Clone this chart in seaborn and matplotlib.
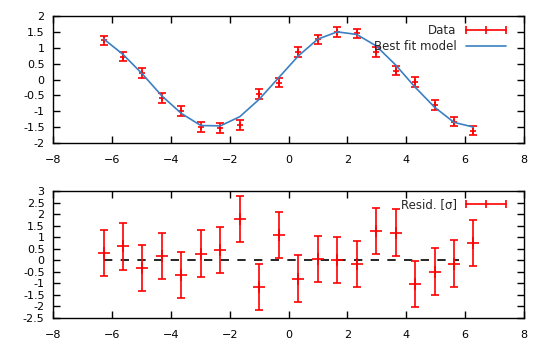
import matplotlib
matplotlib.use("Agg")
import matplotlib.pyplot as plt
from matplotlib.lines import Line2D
import seaborn as sns

# data
x = [-6.283, -5.622, -4.960, -4.299, -3.638, -2.976, -2.315, -1.653, -0.992, -0.331,
     0.331, 0.992, 1.653, 2.315, 2.976, 3.638, 4.299, 4.960, 5.622, 6.283]
y_data = [1.23, 0.72, 0.21, -0.58, -1.00, -1.49, -1.53, -1.43, -0.45, -0.10,
          0.86, 1.26, 1.50, 1.45, 0.87, 0.28, -0.08, -0.80, -1.33, -1.61]
y_err = [0.15] * 20
y_model = [1.28, 0.79, 0.17, -0.52, -1.07, -1.45, -1.46, -1.17, -0.62, 0.06,
           0.74, 1.27, 1.50, 1.42, 1.06, 0.46, -0.24, -0.87, -1.35, -1.50]
resid = [0.33, 0.60, -0.32, 0.17, -0.65, 0.29, 0.46, 1.80, -1.14, 1.11,
         -0.79, 0.04, 0.00, -0.17, 1.28, 1.20, -1.04, -0.49, -0.14, 0.76]
resid_err = [1.0] * 20

xticks = list(range(-8, 9, 2))
yticks_top = [-2, -1.5, -1, -0.5, 0, 0.5, 1, 1.5, 2]
yticks_bot = [-2.5, -2, -1.5, -1, -0.5, 0, 0.5, 1, 1.5, 2, 2.5, 3]

sns.set_style("ticks")
plt.rcParams['font.family'] = ['DejaVu Sans']
plt.rcParams['font.size'] = 8

red = "#ff0000"
blue = "#3a80c2"

fig = plt.figure(figsize=(5.5, 3.5), dpi=100)
ax1 = fig.add_axes([53 / 550, 1 - 143 / 350, 471 / 550, 127 / 350])
ax2 = fig.add_axes([53 / 550, 1 - 318 / 350, 471 / 550, 127 / 350])

ax1.errorbar(x, y_data, yerr=y_err, fmt='+', color=red, ms=5, mew=1.2,
             elinewidth=1.2, capsize=3, capthick=1.2, zorder=2)
sns.lineplot(x=x, y=y_model, ax=ax1, color=blue, linewidth=1.2, zorder=3)

ax2.errorbar(x, resid, yerr=resid_err, fmt='+', color=red, ms=8, mew=1.2,
             elinewidth=1.2, capsize=3, capthick=1.2, zorder=3)
ax2.hlines(0, x[0], 5.8, colors='black', linestyles=(0, (5, 5)), linewidth=1.2, zorder=2)

for ax, yt in ((ax1, yticks_top), (ax2, yticks_bot)):
    ax.set_xlim(-8, 8)
    ax.set_ylim(yt[0], yt[-1])
    ax.set_xticks(xticks)
    ax.set_yticks(yt)
    ax.set_yticklabels([f"{v:g}" for v in yt])
    ax.tick_params(direction='in', length=5, width=1, top=True, right=True,
                   labelsize=8, colors='black')
    ax.tick_params(axis='x', pad=8.5)
    ax.tick_params(axis='y', pad=6)
    for s in ax.spines.values():
        s.set_linewidth(1)
        s.set_color('black')

h_data = Line2D([], [], color=red, lw=1.2, marker='|', ms=6, mew=1.2)
h_model = Line2D([], [], color=blue, lw=1.2)
ax1.legend([h_data, h_model], ["Data", "Best fit model"], loc='upper right',
           frameon=False, markerfirst=False, numpoints=3, handlelength=4.0,
           handletextpad=0.5, labelspacing=0.25, borderaxespad=0.2,
           fontsize=8.5, bbox_to_anchor=(0.985, 0.99))
h_res = Line2D([], [], color=red, lw=1.2, marker='|', ms=6, mew=1.2)
ax2.legend([h_res], ["Resid. [σ]"], loc='upper right', frameon=False,
           markerfirst=False, numpoints=3, handlelength=4.0, handletextpad=0.5,
           borderaxespad=0.2, fontsize=8.5, bbox_to_anchor=(0.985, 1.0))

fig.savefig("out.png", dpi=100)
